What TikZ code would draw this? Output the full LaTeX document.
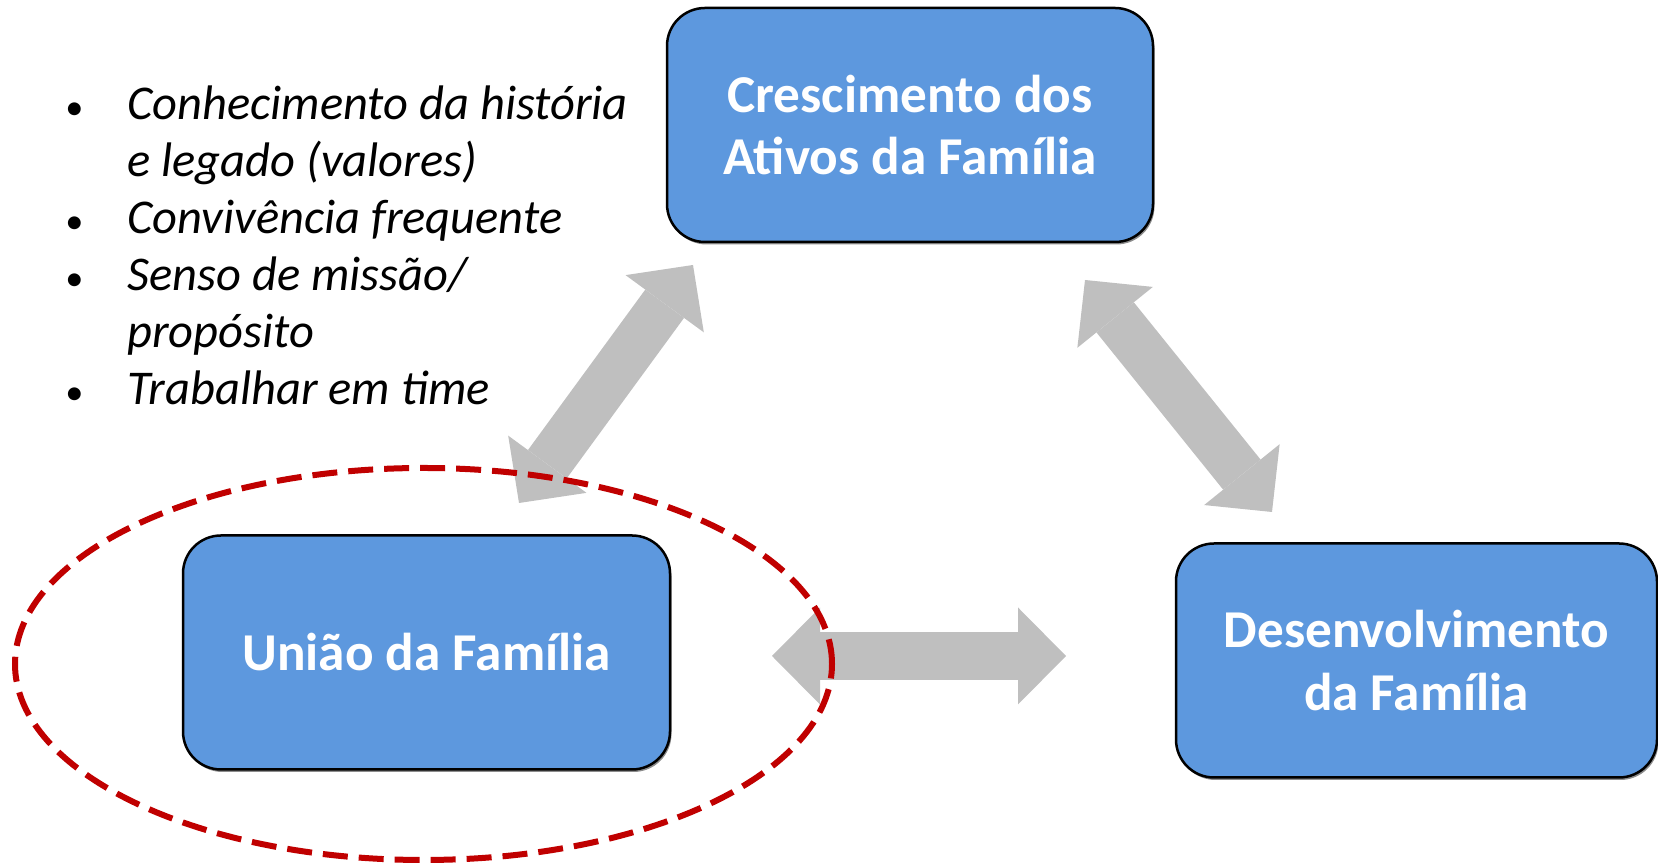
\documentclass[tikz,border=0pt]{standalone}
\usepackage{fontspec}
\setmainfont{Carlito}
\usetikzlibrary{arrows.meta,shadows}
\definecolor{azulcaixa}{RGB}{93,152,222}
\definecolor{cinzaseta}{RGB}{191,191,191}
\definecolor{vermelho}{RGB}{192,0,0}

\begin{document}
\begin{tikzpicture}
\tikzstyle{caixa} = [draw=black, line width=0.05cm, fill=azulcaixa, rounded corners=0.76cm, minimum height=4.68cm, inner sep=0, align=center, text=white, font=\fontsize{30.3}{35.8}\selectfont\bfseries, drop shadow={shadow xshift=0.03cm, shadow yshift=-0.05cm, fill=black, opacity=0.45}]
\tikzstyle{seta} = [draw=cinzaseta, line width=0.96cm, {Triangle[length=0.96cm, width=1.94cm, line width=0pt]}-{Triangle[length=0.96cm, width=1.94cm, line width=0pt]}]
\tikzstyle{elipse} = [draw=vermelho, line width=0.12cm, dash pattern=on 0.5cm off 0.22cm]
\tikzstyle{lista} = [inner sep=0, font=\fontsize{27.6}{32.4}\selectfont]

\useasboundingbox (0,0) rectangle (33.16,17.3);

\node [caixa, minimum width=9.72cm] (ativos) at (18.2,14.8) {Crescimento dos\\Ativos da Família};
\node [caixa, minimum width=9.74cm] (uniao) at (8.53,4.25) {União da Família};
\node [caixa, minimum width=9.62cm] (desenv) at (28.33,4.09) {Desenvolvimento\\da Família};

\node [lista, anchor=base west] (itens) at (1.3,14.9) {\begin{tabular}[t]{@{}p{1.24cm}@{}l@{}}
\scalebox{0.75}{\textbullet} & \textit{Conhecimento da história}\\
 & \textit{e legado (valores)}\\
\scalebox{0.75}{\textbullet} & \textit{Convivência frequente}\\
\scalebox{0.75}{\textbullet} & \textit{Senso de missão/}\\
 & \textit{propósito}\\
\scalebox{0.75}{\textbullet} & \textit{Trabalhar em time}
\end{tabular}};

% setas duplas
\coordinate (s1a) at (10.38,7.24);
\coordinate (s1b) at (13.86,12.0);
\coordinate (s2a) at (21.70,11.70);
\coordinate (s2b) at (25.44,7.06);
\coordinate (s3a) at (15.44,4.18);
\coordinate (s3b) at (21.32,4.18);
\draw [seta] (s1a) -- (s1b);
\draw [seta] (s2a) -- (s2b);
\draw [seta] (s3a) -- (s3b);

\draw [elipse] (8.47,4.02) ellipse [x radius=8.17, y radius=3.92];
\end{tikzpicture}
\end{document}
